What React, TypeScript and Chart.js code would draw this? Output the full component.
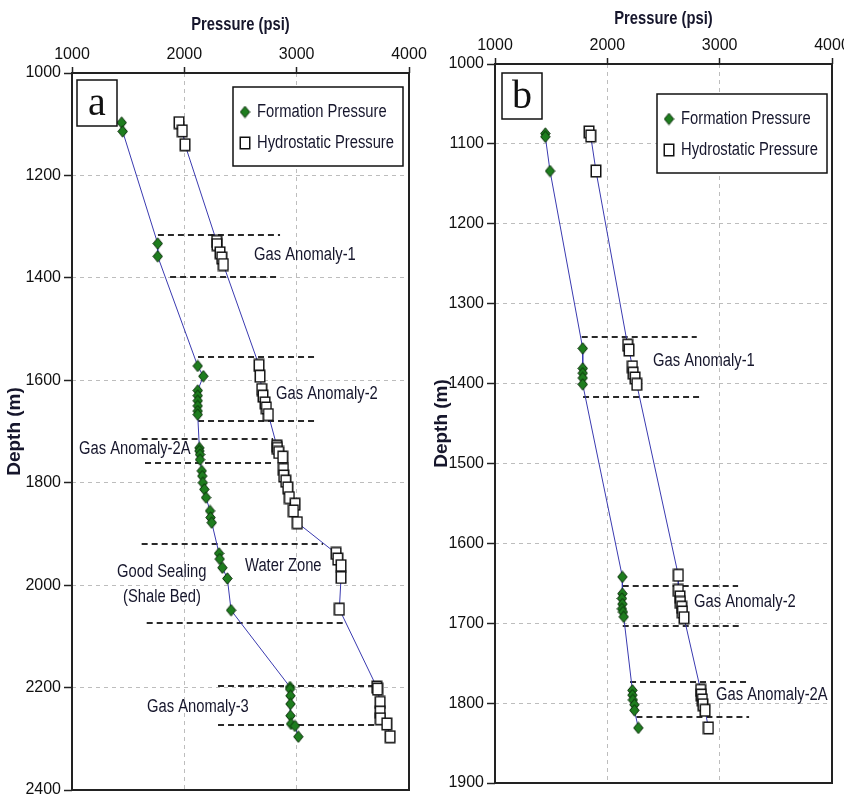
import React, { useEffect, useRef } from 'react';
import { Chart, registerables } from 'chart.js';

Chart.register(...registerables);

// ---------------- DATA ----------------
const pressureTicks = [1000, 2000, 3000, 4000];
const depthTicksA = [1000, 1200, 1400, 1600, 1800, 2000, 2200, 2400];
const depthTicksB = [1000, 1100, 1200, 1300, 1400, 1500, 1600, 1700, 1800, 1900];

// Panel a – formation pressure
const formationDepthA = [1097, 1114, 1333, 1358, 1572, 1592, 1620, 1630, 1640, 1650, 1660, 1667, 1732, 1738, 1745, 1755, 1777, 1787, 1800, 1813, 1829, 1855, 1868, 1878, 1938, 1949, 1966, 1987, 2049, 2199, 2203, 2216, 2232, 2255, 2271, 2275, 2296];
const formationPressureA = [1442, 1451, 1763, 1763, 2119, 2169, 2119, 2119, 2119, 2119, 2119, 2119, 2134, 2134, 2140, 2140, 2155, 2160, 2165, 2178, 2193, 2229, 2233, 2244, 2309, 2315, 2339, 2383, 2416, 2941, 2941, 2945, 2945, 2945, 2950, 2985, 3015];
// Panel a – hydrostatic pressure
const hydroDepthA = [1097, 1113, 1140, 1329, 1335, 1351, 1361, 1374, 1571, 1592, 1618, 1631, 1644, 1654, 1667, 1728, 1733, 1741, 1750, 1774, 1787, 1797, 1810, 1829, 1842, 1855, 1878, 1938, 1949, 1962, 1985, 2047, 2199, 2203, 2229, 2248, 2261, 2271, 2296];
const hydroPressureA = [1953, 1982, 2006, 2288, 2290, 2318, 2333, 2347, 2665, 2674, 2689, 2700, 2719, 2730, 2748, 2823, 2828, 2840, 2876, 2882, 2885, 2903, 2921, 2935, 2986, 2971, 3006, 3351, 3366, 3395, 3395, 3380, 3713, 3720, 3743, 3743, 3745, 3802, 3832];
// Panel a – zone boundaries (dashed)
const boundaryDepthA = [1316, 1399, 1554, 1680, 1714, 1761, 1919, 2074, 2196, 2274];
const boundaryFromA = [1765, 1873, 2122, 2122, 1620, 1650, 1620, 1665, 2300, 2300];
const boundaryToA = [2852, 2825, 3164, 3190, 2790, 2790, 3235, 3413, 3743, 3700];
// Panel a – zone labels
const labelTextA = ['Gas Anomaly-1', 'Gas Anomaly-2', 'Gas Anomaly-2A', 'Water Zone', 'Good Sealing', '(Shale Bed)', 'Gas Anomaly-3'];
const labelPressureA = [2621, 2817, 1062, 2540, 1401, 1454, 1668];
const labelDepthA = [1355, 1626, 1735, 1963, 1975, 2023, 2238];

// Panel b – formation pressure
const formationDepthB = [1087, 1091, 1134, 1356, 1381, 1387, 1393, 1401, 1642, 1663, 1669, 1676, 1682, 1686, 1692, 1784, 1790, 1796, 1802, 1809, 1831];
const formationPressureB = [1448, 1448, 1490, 1781, 1781, 1781, 1781, 1781, 2134, 2134, 2130, 2134, 2130, 2139, 2146, 2223, 2223, 2227, 2241, 2241, 2276];
// Panel b – hydrostatic pressure
const hydroDepthB = [1085, 1090, 1134, 1352, 1358, 1379, 1387, 1393, 1401, 1640, 1659, 1667, 1674, 1680, 1686, 1693, 1784, 1790, 1796, 1802, 1809, 1831];
const hydroPressureB = [1837, 1852, 1899, 2181, 2193, 2223, 2230, 2247, 2262, 2632, 2632, 2647, 2650, 2662, 2668, 2683, 2831, 2836, 2846, 2850, 2870, 2900];
// Panel b – zone boundaries
const boundaryDepthB = [1342, 1417, 1654, 1704, 1773, 1817];
const boundaryFromB = [1772, 1784, 2137, 2137, 2202, 2259];
const boundaryToB = [2796, 2817, 3164, 3173, 3253, 3262];
// Panel b – zone labels
const labelTextB = ['Gas Anomaly-1', 'Gas Anomaly-2', 'Gas Anomaly-2A'];
const labelPressureB = [2407, 2772, 2968];
const labelDepthB = [1372, 1674, 1790];

const seriesNames = ['Formation Pressure', 'Hydrostatic Pressure'];
const xTitle = 'Pressure (psi)';
const yTitle = 'Depth (m)';

// ---------------- STYLE ----------------
const SANS = '"Liberation Sans", Arial, sans-serif';
const SERIF = '"Liberation Serif", "Times New Roman", serif';
const INK = '#16162c';
const NARROW_SCALE = 0.82;
const H = 797;

function narrowText(ctx: CanvasRenderingContext2D, text: string, x: number, y: number, size: number, bold: boolean, align: CanvasTextAlign) {
  ctx.save();
  ctx.font = `${bold ? 'bold ' : ''}${size}px ${SANS}`;
  ctx.translate(x, y);
  ctx.scale(NARROW_SCALE, 1);
  ctx.textAlign = align;
  ctx.textBaseline = 'middle';
  ctx.fillText(text, 0, 0);
  ctx.restore();
}

function makeDiamond(): HTMLCanvasElement {
  const c = document.createElement('canvas');
  c.width = 11; c.height = 13;
  const g = c.getContext('2d')!;
  g.beginPath();
  g.moveTo(5.5, 0.8); g.lineTo(10.2, 6.5); g.lineTo(5.5, 12.2); g.lineTo(0.8, 6.5); g.closePath();
  g.fillStyle = '#1e7d1e'; g.fill();
  g.strokeStyle = '#0b2e0b'; g.lineWidth = 1; g.stroke();
  return c;
}
function makeSquare(): HTMLCanvasElement {
  const c = document.createElement('canvas');
  c.width = 12; c.height = 14;
  const g = c.getContext('2d')!;
  g.fillStyle = '#ffffff'; g.fillRect(1, 1, 10, 12);
  g.strokeStyle = '#111111'; g.lineWidth = 1.5; g.strokeRect(1.25, 1.25, 9.5, 11.5);
  return c;
}

interface PanelSpec {
  id: string;
  letter: string;
  canvasLeft: number;
  canvasWidth: number;
  area: { left: number; right: number; top: number; bottom: number };
  xTitleY: number;
  yTitleX: number;
  depthTicks: number[];
  fDepth: number[]; fPress: number[];
  hDepth: number[]; hPress: number[];
  bDepth: number[]; bFrom: number[]; bTo: number[];
  lText: string[]; lPress: number[]; lDepth: number[];
  letterBox: { dx: number; dy: number };
  legendBox: { rightInset: number; dy: number };
}

const panels: PanelSpec[] = [
  {
    id: 'a', letter: 'a', canvasLeft: 0, canvasWidth: 430,
    area: { left: 72, right: 409, top: 73, bottom: 791 }, xTitleY: 25, yTitleX: 15,
    depthTicks: depthTicksA,
    fDepth: formationDepthA, fPress: formationPressureA,
    hDepth: hydroDepthA, hPress: hydroPressureA,
    bDepth: boundaryDepthA, bFrom: boundaryFromA, bTo: boundaryToA,
    lText: labelTextA, lPress: labelPressureA, lDepth: labelDepthA,
    letterBox: { dx: 5, dy: 7 }, legendBox: { rightInset: 6, dy: 14 },
  },
  {
    id: 'b', letter: 'b', canvasLeft: 430, canvasWidth: 414,
    area: { left: 65, right: 402, top: 64, bottom: 783 }, xTitleY: 19, yTitleX: 12,
    depthTicks: depthTicksB,
    fDepth: formationDepthB, fPress: formationPressureB,
    hDepth: hydroDepthB, hPress: hydroPressureB,
    bDepth: boundaryDepthB, bFrom: boundaryFromB, bTo: boundaryToB,
    lText: labelTextB, lPress: labelPressureB, lDepth: labelDepthB,
    letterBox: { dx: 7, dy: 9 }, legendBox: { rightInset: 5, dy: 30 },
  },
];

function overlayPlugin(p: PanelSpec, diamond: HTMLCanvasElement, square: HTMLCanvasElement) {
  return {
    id: 'overlay-' + p.id,
    beforeDatasetsDraw(chart: any) {
      const { ctx, scales } = chart;
      const x = scales.x, y = scales.y;
      ctx.save();
      ctx.strokeStyle = '#2a2a2a';
      ctx.lineWidth = 2;
      ctx.setLineDash([6, 4]);
      p.bDepth.forEach((d, i) => {
        const yy = Math.round(y.getPixelForValue(d));
        ctx.beginPath();
        ctx.moveTo(x.getPixelForValue(p.bFrom[i]), yy);
        ctx.lineTo(x.getPixelForValue(p.bTo[i]), yy);
        ctx.stroke();
      });
      ctx.restore();
    },
    afterDraw(chart: any) {
      const { ctx, chartArea, scales } = chart;
      const x = scales.x, y = scales.y;
      const { left, right, top, bottom } = chartArea;
      ctx.save();
      // frame
      ctx.strokeStyle = '#222';
      ctx.lineWidth = 2;
      ctx.setLineDash([]);
      ctx.strokeRect(left, top, right - left, bottom - top);

      // axis titles
      ctx.fillStyle = INK;
      narrowText(ctx, xTitle, (left + right) / 2, p.xTitleY, 18, true, 'center');
      ctx.save();
      ctx.translate(p.yTitleX, (top + bottom) / 2);
      ctx.rotate(-Math.PI / 2);
      ctx.font = `bold 19px ${SANS}`;
      ctx.textAlign = 'center';
      ctx.textBaseline = 'middle';
      ctx.fillText(yTitle, 0, 0);
      ctx.restore();

      // zone labels
      ctx.fillStyle = INK;
      p.lText.forEach((t, i) => {
        narrowText(ctx, t, x.getPixelForValue(p.lPress[i]), y.getPixelForValue(p.lDepth[i]), 18, false, 'left');
      });

      // panel letter box
      const bx = left + p.letterBox.dx, by = top + p.letterBox.dy;
      ctx.fillStyle = '#fff';
      ctx.fillRect(bx, by, 40, 46);
      ctx.strokeStyle = '#111';
      ctx.lineWidth = 1.5;
      ctx.strokeRect(bx, by, 40, 46);
      ctx.fillStyle = '#111';
      ctx.font = `40px ${SERIF}`;
      ctx.textAlign = 'center';
      ctx.textBaseline = 'alphabetic';
      ctx.fillText(p.letter, bx + 20, by + 35);

      // legend
      const lw = 170, lh = 79;
      const lx = right - p.legendBox.rightInset - lw, ly = top + p.legendBox.dy;
      ctx.fillStyle = '#fff';
      ctx.fillRect(lx, ly, lw, lh);
      ctx.strokeStyle = '#111';
      ctx.lineWidth = 1.5;
      ctx.strokeRect(lx, ly, lw, lh);
      const imgs = [diamond, square];
      ctx.fillStyle = INK;
      seriesNames.forEach((name, i) => {
        const cy = ly + 25 + i * 31;
        const img = imgs[i];
        ctx.drawImage(img, lx + 12 - img.width / 2, cy - img.height / 2);
        narrowText(ctx, name, lx + 24, cy, 18, false, 'left');
      });
      ctx.restore();
    },
  };
}

function buildConfig(p: PanelSpec, diamond: HTMLCanvasElement, square: HTMLCanvasElement): any {
  const a = p.area;
  return {
    type: 'scatter',
    data: {
      datasets: [
        {
          label: seriesNames[0],
          data: p.fDepth.map((d, i) => ({ x: p.fPress[i], y: d })),
          showLine: true,
          borderColor: '#3a3ab0',
          borderWidth: 1,
          pointStyle: diamond,
          pointRadius: 6,
        },
        {
          label: seriesNames[1],
          data: p.hDepth.map((d, i) => ({ x: p.hPress[i], y: d })),
          showLine: true,
          borderColor: '#3a3ab0',
          borderWidth: 1,
          pointStyle: square,
          pointRadius: 6,
        },
      ],
    },
    options: {
      responsive: false,
      animation: false,
      devicePixelRatio: 1,
      layout: { padding: { left: 0, top: 0, right: p.canvasWidth - a.right, bottom: H - a.bottom } },
      plugins: { legend: { display: false }, tooltip: { enabled: false } },
      scales: {
        x: {
          type: 'linear',
          position: 'top',
          min: pressureTicks[0],
          max: pressureTicks[pressureTicks.length - 1],
          afterBuildTicks: (s: any) => { s.ticks = pressureTicks.map((v) => ({ value: v })); },
          afterFit: (s: any) => { s.height = a.top; s.paddingLeft = 0; s.paddingRight = 0; },
          ticks: {
            font: { family: SANS, size: 16 },
            color: '#111',
            padding: 3,
            autoSkip: false,
            maxRotation: 0,
            callback: (v: any) => String(v),
          },
          grid: { color: '#bdbdbd', lineWidth: 1, drawTicks: true, tickLength: 6, tickColor: '#222', tickWidth: 1.5, tickBorderDash: [] },
          border: { display: false, dash: [4, 4] },
        },
        y: {
          type: 'linear',
          reverse: true,
          min: p.depthTicks[0],
          max: p.depthTicks[p.depthTicks.length - 1],
          afterBuildTicks: (s: any) => { s.ticks = p.depthTicks.map((v) => ({ value: v })); },
          afterFit: (s: any) => { s.width = a.left; s.paddingTop = 0; s.paddingBottom = 0; },
          ticks: {
            font: { family: SANS, size: 16 },
            color: '#111',
            padding: 3,
            autoSkip: false,
            callback: (v: any) => String(v),
          },
          grid: { color: '#bdbdbd', lineWidth: 1, drawTicks: true, tickLength: 8, tickColor: '#222', tickWidth: 1.5, tickBorderDash: [] },
          border: { display: false, dash: [4, 4] },
        },
      },
    },
    plugins: [overlayPlugin(p, diamond, square)],
  };
}

function Panel({ spec }: { spec: PanelSpec }) {
  const ref = useRef<HTMLCanvasElement>(null);
  useEffect(() => {
    const diamond = makeDiamond();
    const square = makeSquare();
    const chart = new Chart(ref.current!, buildConfig(spec, diamond, square));
    return () => chart.destroy();
  }, [spec]);
  return (
    <canvas
      ref={ref}
      width={spec.canvasWidth}
      height={H}
      style={{ position: 'absolute', left: spec.canvasLeft, top: 0, width: spec.canvasWidth, height: H }}
    />
  );
}

export default function App() {
  return (
    <div style={{ position: 'absolute', left: 0, top: 0, width: 844, height: H, background: '#fff', overflow: 'hidden' }}>
      {panels.map((p) => (
        <Panel key={p.id} spec={p} />
      ))}
    </div>
  );
}
